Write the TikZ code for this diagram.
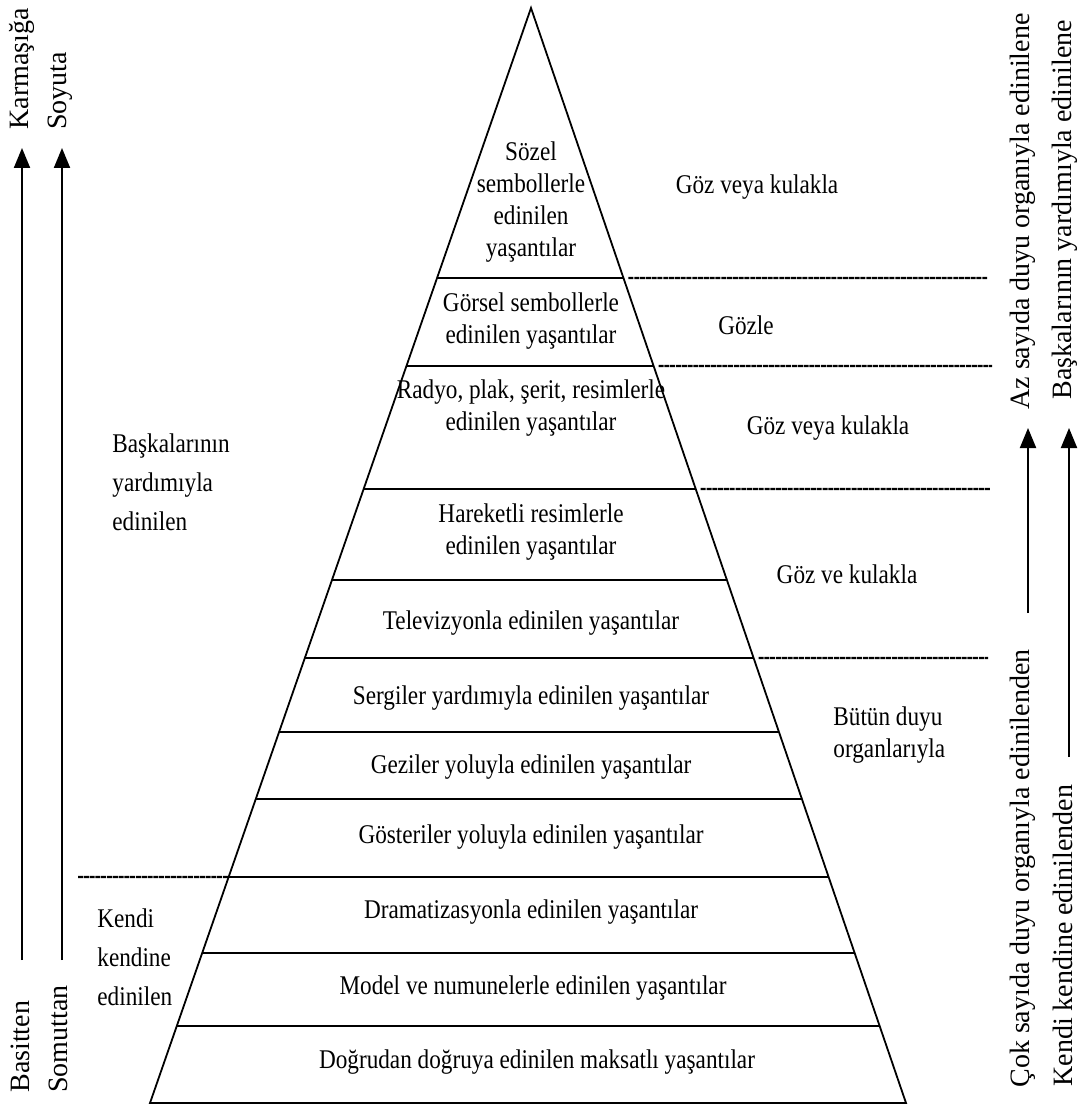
\documentclass[tikz,border=0pt]{standalone}
\usepackage{fontspec}
\setmainfont{Liberation Serif}
\newfontfamily\pyrfont[FakeStretch=0.86]{Liberation Serif}
\usepackage{tikz}
\usetikzlibrary{arrows.meta, calc}
\tikzstyle{layer} = [font={\pyrfont\fontsize{13.5}{16}\selectfont}, align=center, inner sep=0pt]
\tikzstyle{sidelbl} = [font={\pyrfont\fontsize{13.5}{19.5}\selectfont}, align=left, anchor=west, inner sep=0pt]
\tikzstyle{vtext} = [font={\fontsize{14}{16}\selectfont}, rotate=90, anchor=west, inner sep=0pt]
\tikzstyle{line} = [draw, line width=0.9pt]
\tikzstyle{dline} = [draw, line width=1.2pt, dash pattern=on 2.5pt off 0.4pt]
\tikzstyle{arr} = [draw, line width=1pt, -{Triangle[length=10pt, width=8pt]}]

\begin{document}
\begin{tikzpicture}[x=0.5pt, y=-0.5pt]
			\useasboundingbox (0,0) rectangle (1084,1106);
			
			\coordinate (apex) at (531,8);
			\coordinate (bl) at (150,1103);
			\coordinate (br) at (906,1103);
			\path [line] (apex) -- (bl) -- (br) -- cycle;
			\foreach \y in {278,366,489,580,658,732,799,877,953,1026}
				\path [line] ($(apex)!{(\y-8)/1095}!(bl)$) -- ($(apex)!{(\y-8)/1095}!(br)$);
			
			\foreach \y/\e in {278/987,366/992,489/990,658/988}
				\path [dline] ($(apex)!{(\y-8)/1095}!(br)$) ++(5,0) -- (\e,\y);
			\coordinate (kend) at (78,877);
			\path [dline] (kend) -- ($(apex)!{869/1095}!(bl)$);
			
			\node [layer] (sozel) at (531,202) {Sözel\\sembollerle\\edinilen\\yaşantılar};
			\node [layer] (gorsel) at (531,321) {Görsel sembollerle\\edinilen yaşantılar};
			\node [layer] (radyo) at (531,408) {Radyo, plak, şerit, resimlerle\\edinilen yaşantılar};
			\node [layer] (hareketli) at (531,532) {Hareketli resimlerle\\edinilen yaşantılar};
			\node [layer] (tv) at (531,623) {Televizyonla edinilen yaşantılar};
			\node [layer] (sergi) at (531,698) {Sergiler yardımıyla edinilen yaşantılar};
			\node [layer] (gezi) at (531,767) {Geziler yoluyla edinilen yaşantılar};
			\node [layer] (gosteri) at (531,837) {Gösteriler yoluyla edinilen yaşantılar};
			\node [layer] (drama) at (531,912) {Dramatizasyonla edinilen yaşantılar};
			\node [layer] (model) at (533,988) {Model ve numunelerle edinilen yaşantılar};
			\node [layer] (dogrudan) at (537,1062) {Doğrudan doğruya edinilen maksatlı yaşantılar};
			
			\node [layer] (gozkulak1) at (757,187) {Göz veya kulakla};
			\node [layer] (gozle) at (746,325) {Gözle};
			\node [layer] (gozkulak2) at (828,428) {Göz veya kulakla};
			\node [layer] (gozvekulak) at (847,574) {Göz ve kulakla};
			\node [layer, align=left, anchor=west] (butun) at (833,735) {Bütün duyu\\organlarıyla};
			
			\node [sidelbl] (baskalari) at (112,482) {Başkalarının\\yardımıyla\\edinilen};
			\node [sidelbl] (kendi) at (97,957) {Kendi\\kendine\\edinilen};
			
			\node [vtext] (karmasik) at (22,130) {Karmaşığa};
			\node [vtext] (soyut) at (60,130) {Soyuta};
			\node [vtext] (basit) at (20,1093) {Basitten};
			\node [vtext] (somut) at (58,1093) {Somuttan};
			\node [vtext] (az) at (1023,410) {Az sayıda duyu organıyla edinilene};
			\node [vtext] (baskayla) at (1065,400) {Başkalarının yardımıyla edinilene};
			\node [vtext] (cok) at (1023,1088) {Çok sayıda duyu organıyla edinilenden};
			\node [vtext] (kendiden) at (1063,1087) {Kendi kendine edinilenden};
			
			\coordinate (a1s) at (22,960);
			\coordinate (a1e) at (22,148);
			\coordinate (a2s) at (62,960);
			\coordinate (a2e) at (62,148);
			\coordinate (a3s) at (1028,613);
			\coordinate (a3e) at (1028,428);
			\coordinate (a4s) at (1069,757);
			\coordinate (a4e) at (1069,428);
			\path [arr] (a1s) -- (a1e);
			\path [arr] (a2s) -- (a2e);
			\path [arr] (a3s) -- (a3e);
			\path [arr] (a4s) -- (a4e);
		\end{tikzpicture}
\end{document}
